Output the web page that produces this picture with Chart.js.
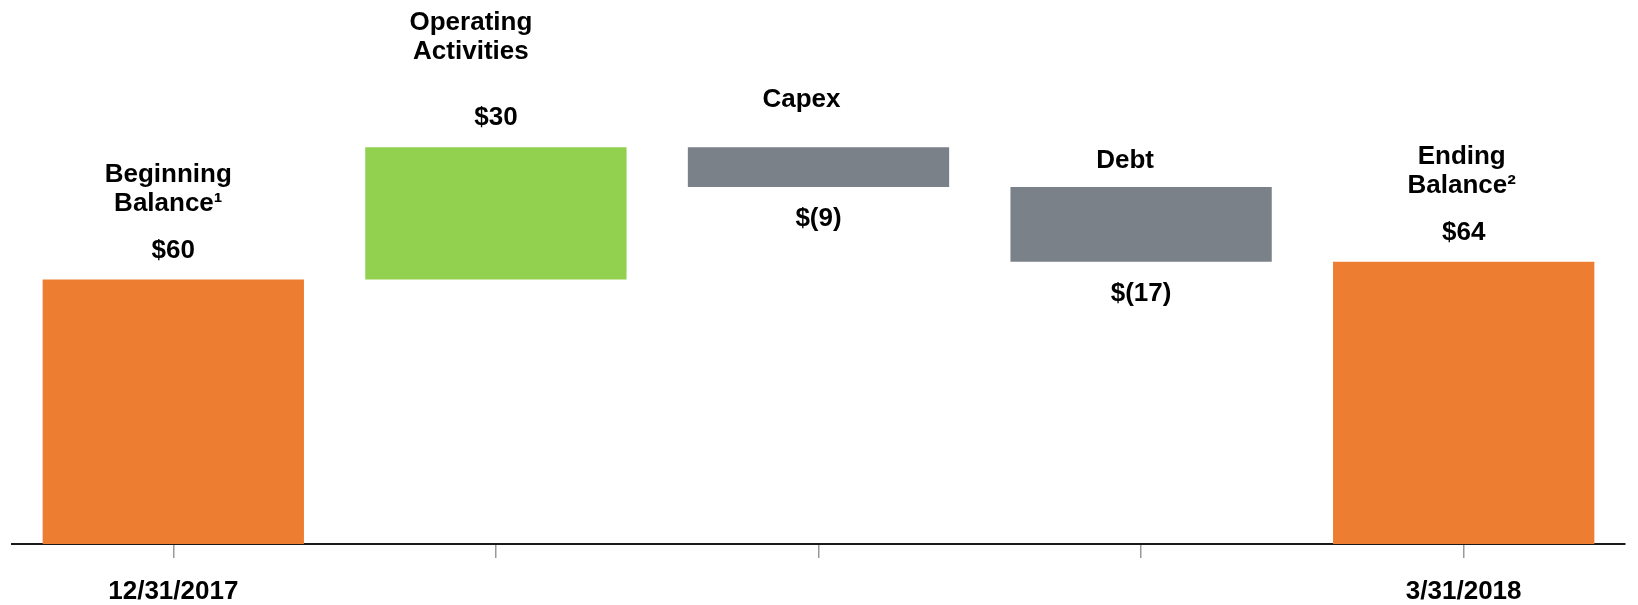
<!DOCTYPE html>
<html>
<head>
<meta charset="utf-8">
<title>Cash waterfall</title>
<script src="https://cdn.jsdelivr.net/npm/chart.js@4.4.1/dist/chart.umd.min.js"></script>
<style>
  html, body { margin: 0; padding: 0; background: #fff; }
  canvas { display: block; }
</style>
</head>
<body>
<canvas id="chart" width="1638" height="605"></canvas>
<script>
// data
const categories = ['12/31/2017', '', '', '', '3/31/2018'];
const stepNames = [['Beginning', 'Balance¹'], ['Operating', 'Activities'], ['Capex'], ['Debt'], ['Ending', 'Balance²']];
const amounts = [60, 30, -9, -17, 64];
const isTotal = [true, false, false, false, true];

// label placement (px): dx from bar centre, dy of the last name line from bar top
const nameOffsets = [
  { dx: -5, dy: -69 },
  { dx: -25, dy: -88 },
  { dx: -17, dy: -40 },
  { dx: -16, dy: -19 },
  { dx: -2, dy: -69 }
];

const FONT = '"Liberation Sans", Arial, Helvetica, sans-serif';
const ORANGE = '#ED7D31';
const GREEN = '#92D050';
const GREY = '#7B8189';

// build floating ranges from the running total
let running = 0;
const ranges = amounts.map((a, i) => {
  if (isTotal[i]) { running = a; return [0, a]; }
  const start = running;
  running += a;
  return [start, running];
});
const colors = amounts.map((a, i) => isTotal[i] ? ORANGE : (a >= 0 ? GREEN : GREY));
const valueText = a => a < 0 ? `$(${-a})` : `$${a}`;

const waterfallLabels = {
  id: 'waterfallLabels',
  afterDatasetsDraw(chart) {
    const ctx = chart.ctx;
    const meta = chart.getDatasetMeta(0);
    ctx.save();
    ctx.fillStyle = '#000';
    ctx.textAlign = 'center';
    ctx.textBaseline = 'alphabetic';
    ctx.font = `bold 26px ${FONT}`;
    meta.data.forEach((bar, i) => {
      const top = Math.min(bar.y, bar.base);
      const bottom = Math.max(bar.y, bar.base);
      if (amounts[i] < 0 && !isTotal[i]) {
        ctx.fillText(valueText(amounts[i]), bar.x, bottom + 39);
      } else {
        ctx.fillText(valueText(amounts[i]), bar.x, top - 22);
      }
      const lines = stepNames[i];
      const off = nameOffsets[i];
      lines.forEach((line, j) => {
        ctx.fillText(line, bar.x + off.dx, top + off.dy - (lines.length - 1 - j) * 29);
      });
    });
    ctx.restore();
  }
};

new Chart(document.getElementById('chart'), {
  type: 'bar',
  data: {
    labels: categories,
    datasets: [{
      data: ranges,
      backgroundColor: colors,
      borderWidth: 0,
      barPercentage: 0.81,
      categoryPercentage: 1.0
    }]
  },
  options: {
    responsive: false,
    animation: false,
    layout: { padding: { left: 12, right: 13, top: 15, bottom: 0 } },
    plugins: { legend: { display: false }, tooltip: { enabled: false } },
    scales: {
      x: {
        offset: true,
        afterFit: scale => { scale.height = 61; },
        grid: { drawOnChartArea: false, drawTicks: true, tickLength: 14, offset: false, color: '#999', lineWidth: 1.5 },
        border: { display: true, color: '#1a1a1a', width: 2 },
        ticks: { color: '#000', font: { family: FONT, size: 26, weight: 'bold' }, padding: 18, maxRotation: 0, autoSkip: false }
      },
      y: { display: false, min: 0, max: 120 }
    }
  },
  plugins: [waterfallLabels]
});
</script>
</body>
</html>
